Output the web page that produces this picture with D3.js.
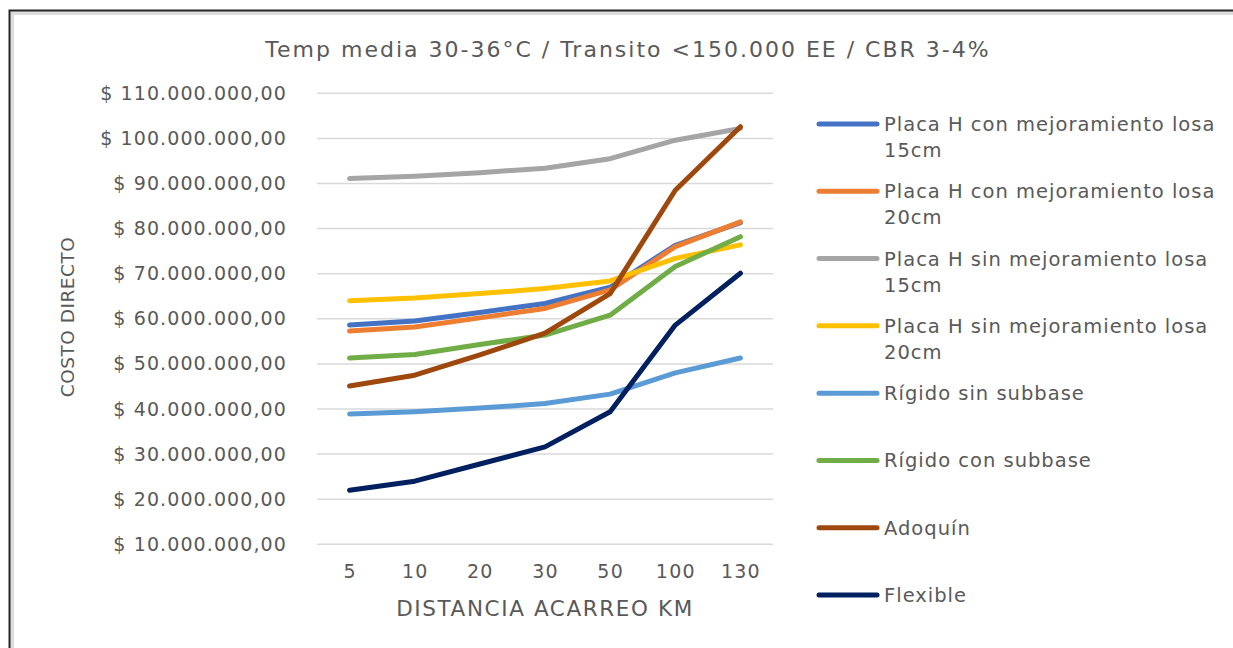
<!DOCTYPE html>
<html>
<head>
<meta charset="utf-8">
<script src="https://cdn.jsdelivr.net/npm/d3@7"></script>
<style>
  html, body { margin: 0; padding: 0; background: #fff; }
  svg { display: block; }
  text { font-family: "DejaVu Sans", sans-serif; fill: #595959; }
</style>
</head>
<body>
<svg id="chart" width="1233" height="648"></svg>
<script>
// Haul distance categories (km)
const distances = ["5", "10", "20", "30", "50", "100", "130"];

// Direct cost per pavement type, in millions of pesos
const placaConMej15 = [58.6, 59.5, 61.4, 63.4, 67.0, 76.3, 81.3];
const placaConMej20 = [57.3, 58.2, 60.2, 62.3, 66.4, 76.0, 81.5];
const placaSinMej15 = [91.1, 91.6, 92.4, 93.4, 95.5, 99.6, 102.2];
const placaSinMej20 = [64.0, 64.6, 65.6, 66.7, 68.4, 73.4, 76.4];
const rigidoSinSub  = [38.9, 39.4, 40.2, 41.2, 43.3, 48.0, 51.3];
const rigidoConSub  = [51.3, 52.1, 54.3, 56.4, 60.8, 71.6, 78.2];
const adoquin       = [45.1, 47.5, 52.0, 56.8, 65.6, 88.5, 102.6];
const flexible      = [22.0, 24.0, 27.8, 31.6, 39.4, 58.6, 70.1];

const seriesNames = [
  "Placa H con mejoramiento losa 15cm",
  "Placa H con mejoramiento losa 20cm",
  "Placa H sin mejoramiento losa 15cm",
  "Placa H sin mejoramiento losa 20cm",
  "Rígido sin subbase",
  "Rígido con subbase",
  "Adoquín",
  "Flexible"
];
const seriesValues = [placaConMej15, placaConMej20, placaSinMej15, placaSinMej20,
                      rigidoSinSub, rigidoConSub, adoquin, flexible];
const seriesColors = ["#4472C4", "#ED7D31", "#A5A5A5", "#FFC000",
                      "#5B9BD5", "#70AD47", "#9E480E", "#002060"];

const yTicks = [10, 20, 30, 40, 50, 60, 70, 80, 90, 100, 110];
const chartTitle = "Temp media 30-36°C / Transito <150.000 EE / CBR 3-4%";
const xTitle = "DISTANCIA ACARREO KM";
const yTitle = "COSTO DIRECTO";

const svg = d3.select("#chart");

// Frame around the chart area
svg.append("path")
  .attr("d", "M10.5,648 L10.5,11.5 L1233,11.5")
  .attr("fill", "none").attr("stroke", "#dcdcdc").attr("stroke-width", 4)
  .attr("transform", "translate(1.5,1.5)");
svg.append("path")
  .attr("d", "M9.5,648 L9.5,10.5 L1233,10.5")
  .attr("fill", "none").attr("stroke", "#262626").attr("stroke-width", 2);

const plot = { left: 317, right: 773, top: 93.3, bottom: 544.3 };

const x = d3.scalePoint().domain(distances)
  .range([plot.left, plot.right]).padding(0.5);
const y = d3.scaleLinear().domain([10, 110]).range([plot.bottom, plot.top]);

// Horizontal gridlines
svg.append("g")
  .selectAll("line").data(yTicks).join("line")
  .attr("x1", plot.left).attr("x2", plot.right)
  .attr("y1", d => y(d)).attr("y2", d => y(d))
  .attr("stroke", "#d9d9d9").attr("stroke-width", 1.5);

// Y axis labels
const fmt = v => "$ " + d3.format(",")(v * 1e6).replace(/,/g, ".") + ",00";
const yAxis = svg.append("g")
  .attr("transform", `translate(${plot.left},0)`)
  .call(d3.axisLeft(y).tickValues(yTicks).tickFormat(fmt).tickSize(0).tickPadding(30));
yAxis.select(".domain").remove();
yAxis.selectAll("text")
  .attr("font-size", 19).attr("letter-spacing", "1.1px")
  .style("font-family", "'DejaVu Sans', sans-serif").attr("fill", "#595959");

// X axis labels
const xAxis = svg.append("g")
  .attr("transform", `translate(0,${plot.bottom})`)
  .call(d3.axisBottom(x).tickSize(0).tickPadding(20));
xAxis.select(".domain").remove();
xAxis.selectAll("text")
  .attr("font-size", 19).attr("letter-spacing", "1.2px")
  .style("font-family", "'DejaVu Sans', sans-serif").attr("fill", "#595959");

// Series lines
const line = d3.line().x((d, i) => x(distances[i])).y(d => y(d));
svg.append("g")
  .selectAll("path").data(seriesValues).join("path")
  .attr("d", d => line(d))
  .attr("fill", "none")
  .attr("stroke", (d, i) => seriesColors[i])
  .attr("stroke-width", 5)
  .attr("stroke-linejoin", "round")
  .attr("stroke-linecap", "round");

// Titles
svg.append("text")
  .attr("x", 628).attr("y", 57).attr("text-anchor", "middle")
  .attr("font-size", 22).attr("letter-spacing", "2px")
  .text(chartTitle);
svg.append("text")
  .attr("x", 545).attr("y", 616).attr("text-anchor", "middle")
  .attr("font-size", 21.5).attr("letter-spacing", "1.6px")
  .text(xTitle);
svg.append("text")
  .attr("transform", "translate(74,317) rotate(-90)")
  .attr("text-anchor", "middle")
  .attr("font-size", 18.5).attr("letter-spacing", "0.5px")
  .text(yTitle);

// Legend
const legendY = d3.scalePoint().domain(seriesNames).range([124, 595]);
const legend = svg.append("g");
seriesNames.forEach((name, i) => {
  const ly = legendY(name);
  legend.append("line")
    .attr("x1", 819).attr("x2", 877).attr("y1", ly).attr("y2", ly)
    .attr("stroke", seriesColors[i]).attr("stroke-width", 5)
    .attr("stroke-linecap", "round");
  const m = name.match(/^(.*) (\d+cm)$/);
  const lines = m ? [m[1], m[2]] : [name];
  const t = legend.append("text")
    .attr("x", 884).attr("y", ly + 7)
    .attr("font-size", 19.5).attr("letter-spacing", "1px");
  lines.forEach((s, j) => {
    t.append("tspan").attr("x", 884).attr("dy", j === 0 ? 0 : 26).text(s);
  });
});
</script>
</body>
</html>
